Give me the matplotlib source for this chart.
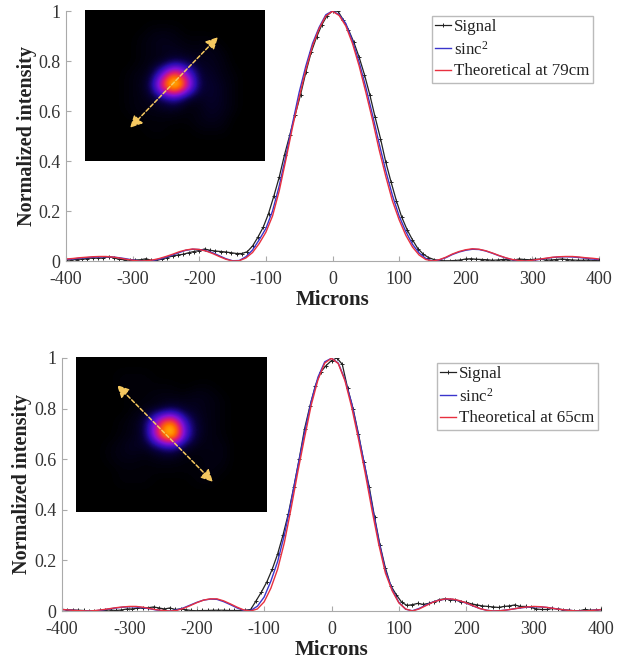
import numpy as np
import matplotlib
matplotlib.use('Agg')
import matplotlib.pyplot as plt
from matplotlib.colors import LinearSegmentedColormap

plt.rcParams['font.family'] = ['Liberation Serif', 'DejaVu Serif']
plt.rcParams['mathtext.fontset'] = 'stix'
plt.rcParams['mathtext.default'] = 'regular'
plt.rcParams['axes.unicode_minus'] = False

W, H = 633, 666

# model curves share one x grid, signal has its own finer one
x_model = list(range(-400, 401, 10))
x_signal = list(range(-400, 401, 8))

sinc_79 = [.006, .008, .011, .013, .015, .016, .017, .016, .013, .009, .004, .001, .000, .002, .007, .015, .024,
           .034, .043, .047, .046, .041, .033, .021, .009, .001, .002, .017, .044, .085, .130, .200, .300, .420,
           .550, .675, .780, .870, .935, .985, 1.0, .985, .950, .880, .795, .695, .585, .470, .360, .262, .180,
           .118, .067, .032, .010, .000, .004, .013, .026, .036, .043, .047, .046, .040, .031, .021, .012, .005,
           .001, .000, .002, .006, .010, .014, .016, .017, .016, .014, .011, .008, .006]
theory_79 = [.008, .010, .013, .015, .017, .018, .018, .016, .012, .007, .003, .000, .001, .004, .010, .018, .027,
             .037, .044, .048, .046, .040, .030, .018, .007, .000, .001, .012, .034, .070, .115, .180, .280, .405,
             .535, .655, .765, .860, .930, .980, .999, .982, .940, .870, .780, .675, .565, .445, .338, .240, .165,
             .103, .056, .024, .006, .000, .005, .015, .028, .038, .045, .049, .047, .041, .032, .022, .013, .006,
             .002, .000, .003, .007, .011, .015, .017, .018, .018, .016, .013, .011, .008]
signal_79 = [.005, .004, .006, .008, .010, .012, .012, .012, .018, .012, .007, .005, .004, .004, .005, .009,
             .003, .002, .008, .014, .020, .024, .027, .033, .038, .042, .048, .043, .040, .038, .036, .033, .030,
             .030, .037, .060, .095, .135, .190, .260, .335, .425, .505, .585, .665, .755, .835, .895, .945, .982,
             1.0, 1.0, .965, .925, .875, .815, .745, .665, .575, .490, .395, .315, .240, .175, .125, .085, .050,
             .028, .014, .006, .002, .001, .001, .002, .004, .008, .009, .007, .006, .005, .003, .004, .006, .005,
             .004, .008, .006, .005, .007, .007, .004, .004, .006, .008, .006, .004, .003, .003, .004, .002, .003]

sinc_65 = [.006, .004, .002, .001, .000, .001, .004, .008, .012, .015, .017, .016, .013, .009, .004, .001, .000,
           .004, .012, .023, .034, .043, .047, .046, .037, .025, .012, .002, .002, .019, .055, .118, .195, .300,
           .430, .570, .705, .830, .925, .985, .999, .980, .915, .820, .695, .565, .420, .280, .160, .085, .034,
           .007, .001, .010, .023, .035, .043, .047, .046, .040, .031, .020, .010, .003, .000, .001, .004, .008,
           .012, .015, .017, .016, .014, .010, .006, .003, .001, .000, .001, .003, .005]
theory_65 = [.006, .004, .002, .001, .000, .002, .005, .009, .013, .016, .018, .018, .015, .010, .005, .002, .000,
             .002, .010, .021, .033, .043, .048, .048, .040, .028, .015, .004, .000, .008, .036, .090, .165, .270,
             .405, .550, .685, .815, .915, .980, .999, .978, .910, .805, .680, .545, .400, .265, .150, .080, .032,
             .008, .000, .008, .021, .034, .043, .048, .047, .041, .032, .021, .010, .003, .000, .001, .004, .008,
             .013, .016, .018, .017, .014, .010, .006, .003, .001, .000, .001, .003, .005]
signal_65 = [.006, .005, .004, .003, .002, .000, .001, .002, .003, .004, .002, .004, .008, .008, .011, .012, .013,
             .016, .012, .008, .012, .006, .008, .005, .002, .001, .002, .002, .003, .003, .003, .002, .002, .002,
             .003, .006, .040, .075, .115, .165, .225, .300, .385, .490, .600, .720, .810, .890, .945, .970, .990,
             1.0, .975, .880, .800, .700, .590, .490, .370, .260, .170, .100, .065, .035, .022, .025, .030, .026,
             .030, .036, .045, .048, .044, .044, .036, .034, .028, .024, .020, .018, .016, .014, .018, .020, .024,
             .018, .018, .014, .008, .006, .006, .010, .008, .005, .003, .001, .001, .006, .003, .004, .006]

# beam pictures, coarse intensity
beam_79 = [[0, 0, 0, 0, 0, 0, 0, 0, 0, 0, 0, 0, 0, 0, 0],
           [0, 0, 0, 0, 0, .01, .01, .01, 0, 0, 0, 0, 0, 0, 0],
           [0, 0, 0, 0, .01, .02, .03, .02, .01, .01, .01, 0, 0, 0, 0],
           [0, 0, 0, 0, .01, .02, .03, .03, .02, .02, .03, .01, 0, 0, 0],
           [0, 0, 0, 0, .01, .02, .02, .07, .05, .03, .03, .02, 0, 0, 0],
           [0, 0, 0, .01, .02, .03, .26, .62, .30, .05, .04, .02, .01, 0, 0],
           [0, 0, 0, .01, .02, .07, .58, 1.0, .48, .06, .05, .03, .01, 0, 0],
           [0, 0, 0, .01, .02, .03, .10, .18, .05, .03, .05, .03, .01, 0, 0],
           [0, 0, 0, .01, .02, .02, .03, .03, .01, .02, .04, .03, .01, 0, 0],
           [0, 0, 0, 0, .01, .01, .01, .01, .01, .02, .03, .02, 0, 0, 0],
           [0, 0, 0, 0, 0, .01, .01, 0, 0, .01, .01, .01, 0, 0, 0],
           [0, 0, 0, 0, 0, 0, 0, 0, 0, 0, 0, 0, 0, 0, 0],
           [0, 0, 0, 0, 0, 0, 0, 0, 0, 0, 0, 0, 0, 0, 0]]
beam_65 = [[0, 0, 0, 0, 0, 0, 0, 0, 0, 0, 0, 0, 0, 0, 0],
           [0, 0, 0, .01, .01, .01, 0, 0, 0, 0, 0, 0, 0, 0, 0],
           [0, 0, 0, .01, .01, .01, .01, .01, 0, .01, .01, 0, 0, 0, 0],
           [0, 0, 0, 0, .01, .01, .02, .02, .02, .03, .02, .01, 0, 0, 0],
           [0, 0, 0, 0, .01, .02, .03, .08, .04, .03, .02, .01, 0, 0, 0],
           [0, 0, 0, .01, .02, .06, .46, .74, .20, .04, .02, .01, 0, 0, 0],
           [0, 0, 0, .01, .02, .06, .54, 1.0, .26, .04, .02, .01, 0, 0, 0],
           [0, 0, .01, .02, .04, .03, .09, .14, .04, .02, .02, .02, 0, 0, 0],
           [0, 0, .01, .02, .02, .01, .02, .02, .01, .01, .02, .02, 0, 0, 0],
           [0, 0, 0, .01, .01, .01, .01, .01, .01, .01, .02, .01, 0, 0, 0],
           [0, 0, 0, .01, .01, .01, 0, 0, 0, .01, .01, 0, 0, 0, 0],
           [0, 0, 0, 0, 0, 0, 0, 0, 0, 0, 0, 0, 0, 0, 0],
           [0, 0, 0, 0, 0, 0, 0, 0, 0, 0, 0, 0, 0, 0, 0]]

x_ticks = [-400, -300, -200, -100, 0, 100, 200, 300, 400]
y_ticks = [0, 0.2, 0.4, 0.6, 0.8, 1]
y_tick_labels = ['0', '0.2', '0.4', '0.6', '0.8', '1']

beam_cmap = LinearSegmentedColormap.from_list('beam', [(0, '#000000'), (.06, '#08003a'), (.16, '#2a0cb0'),
                                                       (.30, '#8010d8'), (.45, '#e01a70'), (.60, '#ff6a00'),
                                                       (.78, '#ffd000'), (1, '#ffffe8')])


def box(left, top, right, bottom):
    # pixel box -> figure fractions
    return [left / W, 1 - bottom / H, (right - left) / W, (bottom - top) / H]


def panel(fig, ax_box, sig, sinc, theory, label, legend_xy, ylabel_x, xlabel_y):
    ax = fig.add_axes(box(*ax_box))
    ax.plot(x_signal, sig, color='#222222', lw=0.9, marker='+', ms=3, mew=0.7, label='Signal')
    ax.plot(x_model, sinc, color='#3a35cc', lw=1.0, label='sinc$^2$')
    ax.plot(x_model, theory, color='#e8303f', lw=1.0, label=label)
    ax.set_xlim(-400, 400)
    ax.set_ylim(0, 1)
    ax.set_xticks(x_ticks)
    ax.set_yticks(y_ticks)
    ax.set_yticklabels(y_tick_labels)
    ax.tick_params(direction='in', length=3.5, width=0.8, color='#aaaaaa', labelsize=13,
                   labelcolor='#333333', pad=4)
    ax.tick_params(axis='x', pad=7)
    for s in ['top', 'right']:
        ax.spines[s].set_visible(False)
    for s in ['left', 'bottom']:
        ax.spines[s].set_color('#aaaaaa')
    leg = ax.legend(loc='upper left', bbox_to_anchor=(legend_xy[0] / W, 1 - legend_xy[1] / H),
                    bbox_transform=fig.transFigure, fontsize=12.2, fancybox=False, edgecolor='#bbbbbb',
                    framealpha=1, handlelength=0.95, handletextpad=0.15, labelspacing=0.3,
                    borderpad=0.2, borderaxespad=0)
    for t in leg.get_texts():
        t.set_color('#222222')
    fig.text(ylabel_x / W, 1 - (ax_box[1] + ax_box[3]) / 2 / H, 'Normalized intensity', rotation=90,
             ha='center', va='center', fontsize=14.5, fontweight='bold', color='#222222')
    fig.text((ax_box[0] + ax_box[2]) / 2 / W, 1 - xlabel_y / H, 'Microns', ha='center', va='center',
             fontsize=15, fontweight='bold', color='#222222')


def inset(fig, ax_box, beam, arrow_a, arrow_b):
    ax = fig.add_axes(box(*ax_box))
    ax.imshow(beam, cmap=beam_cmap, vmin=0, vmax=1, interpolation='bicubic', aspect='auto')
    ax.set_xticks([])
    ax.set_yticks([])
    for s in ax.spines.values():
        s.set_visible(False)
    ax.annotate('', xy=arrow_a, xytext=arrow_b, xycoords='axes fraction', textcoords='axes fraction',
                arrowprops=dict(arrowstyle='<|-|>', color='#f5c860', lw=1.1, ls=(0, (2.5, 1.5)),
                                mutation_scale=18, shrinkA=0, shrinkB=0))


fig = plt.figure(figsize=(W / 100, H / 100), dpi=100)

panel(fig, (66, 11, 599, 261), signal_79, sinc_79, theory_79, 'Theoretical at 79cm', (432, 16), 27, 300)
panel(fig, (62, 358, 601, 611), signal_65, sinc_65, theory_65, 'Theoretical at 65cm', (437, 363), 22, 650)

inset(fig, (85, 10, 265, 161), beam_79, (.25, .22), (.739, .821))
inset(fig, (76, 357, 267, 512), beam_65, (.215, .819), (.717, .194))

plt.savefig('out.png', dpi=100)
